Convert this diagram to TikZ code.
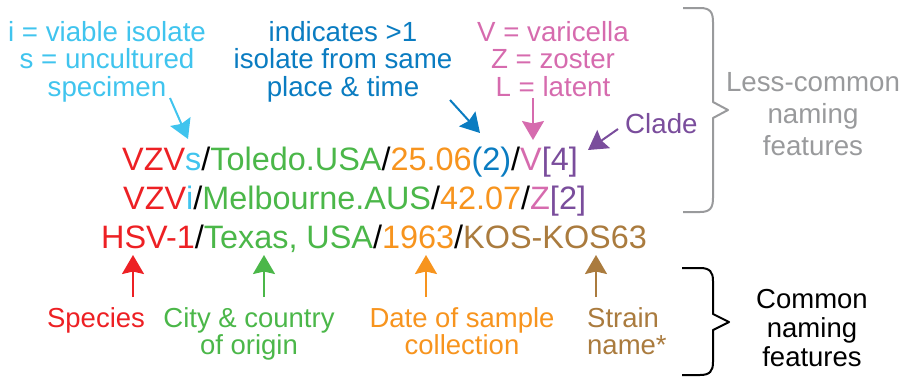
\documentclass[tikz,border=0pt]{standalone}
\usepackage{fontspec}
\setmainfont{Liberation Sans}
\usetikzlibrary{arrows.meta}
\definecolor{cred}{RGB}{237,32,36}
\definecolor{cltb}{RGB}{64,196,238}
\definecolor{cblue}{RGB}{10,124,193}
\definecolor{cpink}{RGB}{214,107,174}
\definecolor{cpurp}{RGB}{122,77,156}
\definecolor{cgreen}{RGB}{75,183,73}
\definecolor{corange}{RGB}{247,148,30}
\definecolor{cbrown}{RGB}{170,123,62}
\definecolor{cgray}{RGB}{153,154,156}
\begin{document}
\begin{tikzpicture}[x=1pt,y=-1pt,
  lbl/.style={inner sep=0pt, align=center, anchor=base, font=\fontsize{27.7}{27.5}\selectfont},
  side/.style={inner sep=0pt, align=center, anchor=base, font=\fontsize{27.7}{32}\selectfont},
  bot/.style={inner sep=0pt, align=center, anchor=base, font=\fontsize{27.5}{27}\selectfont},
  mainline/.style={inner sep=0pt, anchor=base west, font=\fontsize{32.4}{32}\selectfont},
  arr/.style={line width=2pt, -{Stealth[length=19pt,width=22pt,inset=2.5pt]}},
  bracepath/.style={line width=2pt, line join=round}]
\useasboundingbox (0,0) rectangle (903,376);

% main name strings
\node[mainline] (l1) at (122,170) {\textcolor{cred}{VZV}\textcolor{cltb}{s}/\textcolor{cgreen}{Toledo.USA}/\textcolor{corange}{25.06}\textcolor{cblue}{(2)}/\textcolor{cpink}{V}\textcolor{cpurp}{[4]}};
\node[mainline] (l2) at (123,209) {\textcolor{cred}{VZV}\textcolor{cltb}{i}/\textcolor{cgreen}{Melbourne.AUS}/\textcolor{corange}{42.07}/\textcolor{cpink}{Z}\textcolor{cpurp}{[2]}};
\node[mainline] (l3) at (101,248) {\textcolor{cred}{HSV-1}/\textcolor{cgreen}{Texas, USA}/\textcolor{corange}{1963}/\textcolor{cbrown}{KOS-KOS63}};

% top labels (anchor = baseline of last line)
\node[lbl, text=cltb] (iso) at (107,96) {i = viable isolate\\s = uncultured\\specimen};
\node[lbl, text=cblue] (multi) at (343,96) {indicates >1\\isolate from same\\place \& time};
\node[lbl, text=cpink] (vzl) at (553,96) {V = varicella\\Z = zoster\\L = latent};
\node[inner sep=0pt, anchor=base west, text=cpurp, font=\fontsize{27.7}{27.5}\selectfont] (clade) at (625,133) {Clade};

% side labels
\node[side, text=cgray] (less) at (813,155) {Less-common\\naming\\features};
\node[side, text=black, font=\fontsize{27.5}{29}\selectfont] (common) at (812,366) {Common\\naming\\features};

% bottom labels
\node[bot, text=cred] (species) at (96,327) {Species};
\node[bot, text=cgreen] (city) at (249,354) {City \& country\\of origin};
\node[bot, text=corange] (date) at (462,354) {Date of sample\\collection};
\node[bot, text=cbrown, align=left, anchor=base west] (strain) at (587,354) {Strain\\name*};

% arrow coordinates
\coordinate (aS) at (170,98);  \coordinate (tS) at (188,139);
\coordinate (aB) at (450,100); \coordinate (tB) at (480,133);
\coordinate (aP) at (533,98);  \coordinate (tP) at (533,140);
\coordinate (aC) at (618,129); \coordinate (tC) at (588,150);
\coordinate (aR) at (133,297); \coordinate (tR) at (133,255);
\coordinate (aG) at (264,297); \coordinate (tG) at (264,255);
\coordinate (aO) at (426,297); \coordinate (tO) at (426,255);
\coordinate (aN) at (596,297); \coordinate (tN) at (596,255);

\draw[arr, cltb] (aS) -- (tS);
\draw[arr, cblue] (aB) -- (tB);
\draw[arr, cpink] (aP) -- (tP);
\draw[arr, cpurp] (aC) -- (tC);
\draw[arr, cred] (aR) -- (tR);
\draw[arr, cgreen] (aG) -- (tG);
\draw[arr, corange] (aO) -- (tO);
\draw[arr, cbrown] (aN) -- (tN);

% braces
\draw[bracepath, cgray] (683,8) -- (700,8) .. controls (710,8) and (713,12) .. (713,22)
  -- (713,102) -- (728,110) -- (713,118) -- (713,198)
  .. controls (713,208) and (710,212) .. (700,212) -- (683,212);
\draw[bracepath, black] (682,268) -- (700,268) .. controls (710,268) and (713,272) .. (713,281)
  -- (713,314) -- (729,322) -- (713,330) -- (713,362)
  .. controls (713,371) and (710,375) .. (700,375) -- (682,375);
\end{tikzpicture}
\end{document}
